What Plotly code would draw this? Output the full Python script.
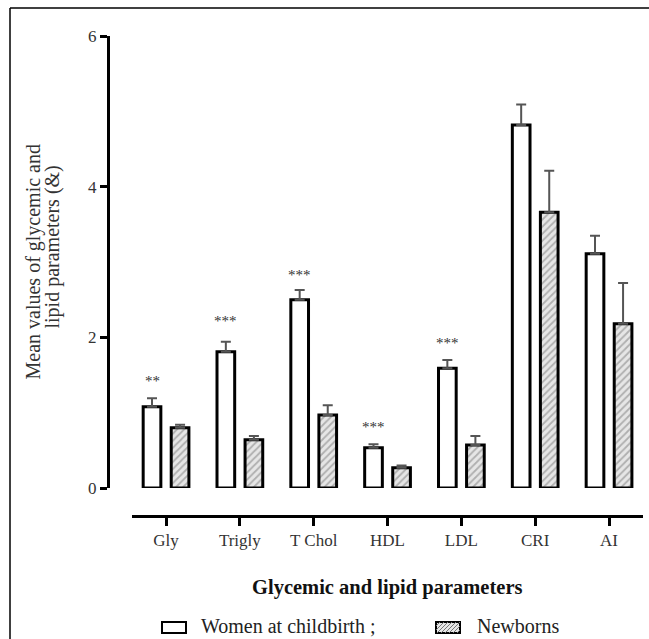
import plotly.graph_objects as go

categories = ["Gly", "Trigly", "T Chol", "HDL", "LDL", "CRI", "AI"]
women = [1.08, 1.81, 2.50, 0.535, 1.59, 4.82, 3.11]
women_err = [0.11, 0.13, 0.13, 0.045, 0.11, 0.27, 0.24]
newborns = [0.80, 0.64, 0.97, 0.27, 0.57, 3.66, 2.18]
newborns_err = [0.04, 0.05, 0.13, 0.03, 0.12, 0.55, 0.54]
stars = ["**", "***", "***", "***", "***", "", ""]
star_y = [1.42, 2.22, 2.83, 0.81, 1.93, 0, 0]
series_names = ["Women at childbirth ;", "Newborns"]

FONT = "Times New Roman, Liberation Serif, DejaVu Serif, serif"
n = len(categories)
xi = list(range(n))

# pixel -> paper helpers (plot area: x 108..643, y 36..516)
def px(x):
    return (x - 108) / 535.0

def py(y):
    return (516 - y) / 480.0

fig = go.Figure()
fig.add_trace(go.Bar(
    x=xi, y=women, name=series_names[0], showlegend=False,
    marker=dict(color="white", line=dict(color="black", width=3)),
    error_y=dict(type="data", array=women_err, arrayminus=[0]*n, symmetric=False,
                 color="#555555", thickness=2, width=5),
))
fig.add_trace(go.Bar(
    x=xi, y=newborns, name=series_names[1], showlegend=False,
    marker=dict(color="#e6e6e6", line=dict(color="black", width=3),
                pattern=dict(shape="/", fgcolor="#777777", bgcolor="#e6e6e6", size=5, solidity=0.35)),
    error_y=dict(type="data", array=newborns_err, arrayminus=[0]*n, symmetric=False,
                 color="#555555", thickness=2, width=5),
))

for i, (s, sy) in enumerate(zip(stars, star_y)):
    if s:
        fig.add_annotation(x=i - 0.19, y=sy, text=s, showarrow=False,
                           font=dict(family=FONT, size=15, color="#333333"),
                           xref="x", yref="y")

# y-axis title (two lines placed separately)
fig.add_annotation(x=px(33), y=py(262.5), xref="paper", yref="paper",
                   xanchor="center", yanchor="middle",
                   text="Mean values of glycemic and", textangle=-90, showarrow=False,
                   font=dict(family=FONT, size=20, color="#333333"))
fig.add_annotation(x=px(52), y=py(247.5), xref="paper", yref="paper",
                   xanchor="center", yanchor="middle",
                   text="lipid parameters (&)", textangle=-90, showarrow=False,
                   font=dict(family=FONT, size=20, color="#333333"))
# x-axis title
fig.add_annotation(x=px(386.7), y=py(587), xref="paper", yref="paper",
                   xanchor="center", yanchor="middle",
                   text="<b>Glycemic and lipid parameters</b>", showarrow=False,
                   font=dict(family=FONT, size=20.5, color="#111111"))

# legend (drawn manually)
fig.add_shape(type="rect", xref="paper", yref="paper",
              x0=px(162), x1=px(186), y0=py(633), y1=py(622),
              line=dict(color="black", width=2), fillcolor="white")
fig.add_annotation(x=px(199), y=py(626), xref="paper", yref="paper",
                   xanchor="left", yanchor="middle",
                   text=series_names[0], showarrow=False,
                   font=dict(family=FONT, size=20, color="#222222"))
lx0, lx1, ly0, ly1 = 436, 460, 622, 633
fig.add_shape(type="rect", xref="paper", yref="paper",
              x0=px(lx0), x1=px(lx1), y0=py(ly1), y1=py(ly0),
              line=dict(color="black", width=2), fillcolor="#e6e6e6")
h = ly1 - ly0
for s in range(-h, lx1 - lx0, 4):
    ax, ay = s, 0
    bx, by = s + h, h
    if ax < 0:
        ay = -ax
        ax = 0
    if bx > lx1 - lx0:
        by = h - (bx - (lx1 - lx0))
        bx = lx1 - lx0
    fig.add_shape(type="line", xref="paper", yref="paper",
                  x0=px(lx0 + ax), y0=py(ly1 - ay), x1=px(lx0 + bx), y1=py(ly1 - by),
                  line=dict(color="#777777", width=1))
fig.add_annotation(x=px(475), y=py(626), xref="paper", yref="paper",
                   xanchor="left", yanchor="middle",
                   text=series_names[1], showarrow=False,
                   font=dict(family=FONT, size=20, color="#222222"))

# outer frame (left and top edges)
fig.add_shape(type="line", xref="paper", yref="paper", x0=px(10), x1=px(10), y0=py(8), y1=py(700),
              line=dict(color="black", width=1.5))
fig.add_shape(type="line", xref="paper", yref="paper", x0=px(10), x1=px(700), y0=py(8), y1=py(8),
              line=dict(color="black", width=1.5))

fig.update_layout(
    width=649, height=639,
    margin=dict(l=108, r=6, t=36, b=123, autoexpand=False),
    plot_bgcolor="white", paper_bgcolor="white",
    barmode="group", bargap=0.24, bargroupgap=0.37,
    showlegend=False,
    xaxis=dict(domain=[0.045, 1], range=[-0.46, 6.46], anchor="free", position=0,
               tickmode="array", tickvals=xi, ticktext=categories,
               showline=True, linecolor="black", linewidth=3,
               ticks="outside", ticklen=8, tickwidth=3, tickcolor="black",
               tickfont=dict(family=FONT, size=17, color="#333333"),
               showgrid=False, zeroline=False),
    yaxis=dict(domain=[0.0583, 1], range=[0, 6], anchor="free", position=0,
               tickmode="array", tickvals=[0, 2, 4, 6],
               showline=True, linecolor="black", linewidth=3,
               ticks="outside", ticklen=7, tickwidth=3, tickcolor="black",
               tickfont=dict(family=FONT, size=17, color="#333333"),
               showgrid=False, zeroline=False),
)

fig.write_html("out.html")
